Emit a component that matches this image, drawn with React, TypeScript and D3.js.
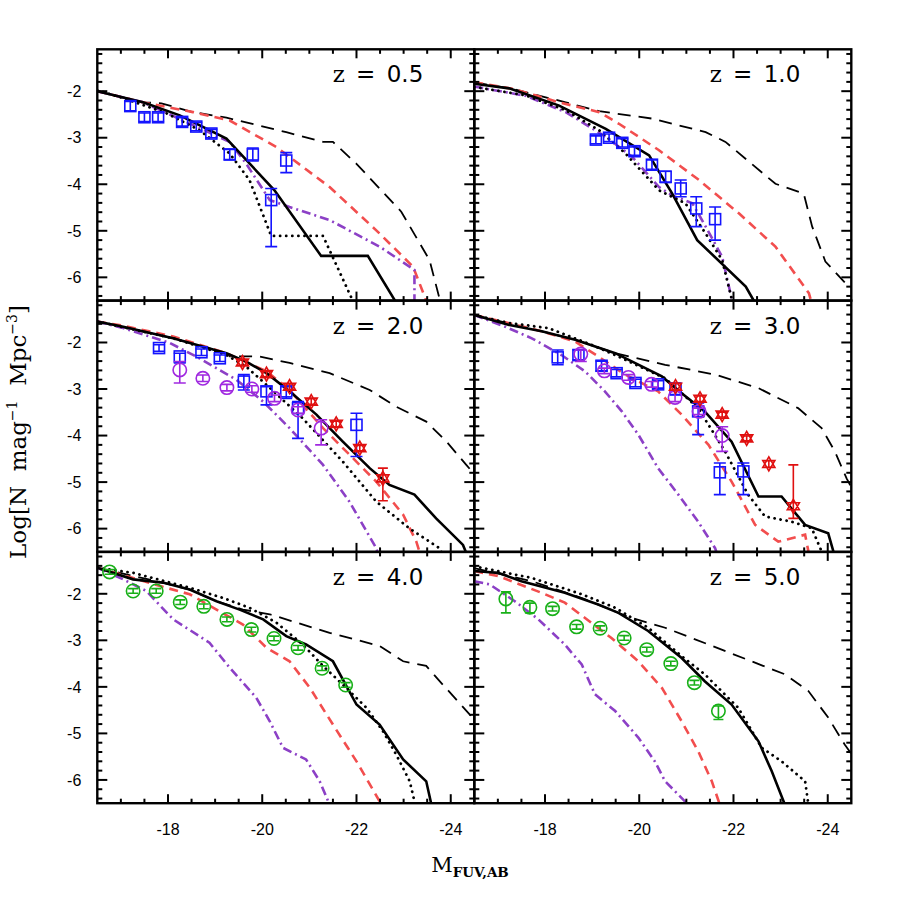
import React from 'react';
import * as d3 from 'd3';

type P = [number, number];
// [M, logN, upper end of bar, lower end of bar]
type E = [number, number, number, number];

const redshifts = ['0.5', '1.0', '2.0', '3.0', '4.0', '5.0'];
const xMajor = [-18, -20, -22, -24];
const yMajor = [-2, -3, -4, -5, -6];

// z = 0.5
const solid05: P[] = [[-16.5, -2.0], [-17.47, -2.24], [-18.25, -2.52], [-19.24, -3.02], [-20.26, -4.13], [-21.25, -5.54], [-22.24, -5.54], [-22.81, -6.49], [-22.9, -6.7]];
const dotted05: P[] = [[-16.5, -1.98], [-17.05, -2.15], [-17.96, -2.47], [-18.67, -2.84], [-19.31, -3.34], [-19.73, -3.91], [-20.19, -5.11], [-21.29, -5.11], [-21.92, -6.5], [-22.0, -6.7]];
const long05: P[] = [[-16.5, -2.0], [-17.47, -2.24], [-17.86, -2.26], [-18.53, -2.45], [-19.24, -2.57], [-20.51, -2.88], [-21.29, -3.09], [-21.5, -3.09], [-22.0, -3.56], [-22.95, -4.59], [-23.55, -5.63], [-23.76, -6.45], [-23.85, -6.7]];
const red05: P[] = [[-16.5, -2.0], [-17.47, -2.24], [-18.53, -2.45], [-19.31, -2.63], [-20.3, -3.2], [-21.43, -4.06], [-22.42, -4.99], [-23.2, -5.77], [-23.48, -6.5], [-23.6, -6.8]];
const purple05: P[] = [[-16.5, -2.0], [-17.47, -2.24], [-18.32, -2.63], [-19.31, -3.09], [-19.66, -3.56], [-20.16, -4.34], [-20.58, -4.49], [-21.43, -4.77], [-22.49, -5.34], [-23.23, -5.84], [-23.23, -6.7]];
const squares05: E[] = [[-17.2, -2.32, -2.22, -2.42], [-17.5, -2.56, -2.47, -2.65], [-17.79, -2.56, -2.47, -2.65], [-18.3, -2.66, -2.57, -2.75], [-18.6, -2.76, -2.67, -2.85], [-18.92, -2.91, -2.82, -3.0], [-19.31, -3.36, -3.25, -3.47], [-19.8, -3.36, -3.22, -3.5], [-20.51, -3.49, -3.32, -3.75], [-20.19, -4.34, -4.09, -5.34]];

// z = 1.0
const solid10: P[] = [[-16.5, -1.84], [-17.24, -1.94], [-18.3, -2.31], [-19.29, -2.81], [-20.21, -3.38], [-20.7, -4.2], [-21.23, -5.2], [-22.26, -6.2], [-22.43, -6.5], [-22.5, -6.7]];
const dotted10: P[] = [[-16.5, -1.91], [-17.59, -2.09], [-18.44, -2.41], [-19.15, -2.84], [-19.71, -3.34], [-20.42, -4.13], [-20.98, -4.41], [-21.41, -5.06], [-21.76, -5.63], [-21.97, -6.5], [-22.0, -6.7]];
const long10: P[] = [[-16.5, -1.81], [-17.31, -1.95], [-18.44, -2.24], [-19.15, -2.43], [-20.28, -2.59], [-21.41, -2.88], [-21.83, -3.09], [-22.89, -3.99], [-23.49, -4.2], [-23.67, -4.91], [-23.95, -5.66], [-24.38, -6.13], [-24.6, -6.3]];
const red10: P[] = [[-16.5, -1.81], [-17.31, -1.95], [-17.8, -2.09], [-18.3, -2.24], [-19.15, -2.45], [-19.57, -2.7], [-20.42, -3.27], [-21.27, -3.91], [-22.12, -4.63], [-22.89, -5.34], [-23.6, -6.34], [-23.7, -6.7]];
const purple10: P[] = [[-16.5, -1.9], [-17.59, -2.1], [-18.44, -2.45], [-19.29, -2.98], [-19.85, -3.41], [-20.42, -4.06], [-20.7, -4.24], [-21.13, -4.41], [-21.41, -4.91], [-21.76, -5.56], [-21.97, -6.5], [-22.0, -6.7]];
const squares10: E[] = [[-19.08, -3.04, -2.96, -3.13], [-19.36, -3.0, -2.92, -3.08], [-19.64, -3.11, -3.02, -3.2], [-19.9, -3.29, -3.2, -3.38], [-20.27, -3.58, -3.48, -3.68], [-20.56, -3.84, -3.72, -3.96], [-20.88, -4.09, -3.91, -4.27], [-21.21, -4.52, -4.27, -4.91], [-21.61, -4.75, -4.49, -5.2]];

// z = 2.0
const solid20: P[] = [[-16.5, -1.55], [-17.05, -1.66], [-18.11, -1.91], [-19.24, -2.23], [-19.66, -2.41], [-20.09, -2.66], [-20.58, -3.05], [-21.15, -3.55], [-21.71, -4.13], [-22.28, -4.7], [-22.7, -5.06], [-23.23, -5.27], [-23.69, -5.78], [-24.26, -6.35], [-24.4, -6.7]];
const dotted20: P[] = [[-16.5, -1.55], [-18.11, -1.91], [-19.24, -2.27], [-19.66, -2.52], [-20.09, -2.91], [-20.86, -3.63], [-21.71, -4.56], [-22.42, -5.42], [-23.13, -6.0], [-23.76, -6.42], [-23.9, -6.7]];
const long20: P[] = [[-16.5, -1.55], [-18.11, -1.91], [-19.24, -2.23], [-19.31, -2.3], [-19.94, -2.3], [-20.58, -2.44], [-21.43, -2.66], [-22.28, -3.02], [-22.84, -3.38], [-23.48, -3.7], [-23.91, -4.13], [-24.33, -4.63], [-24.6, -4.95]];
const red20: P[] = [[-16.5, -1.55], [-17.05, -1.64], [-18.11, -1.87], [-19.24, -2.23], [-20.09, -2.62], [-20.58, -3.02], [-21.29, -3.84], [-21.85, -4.41], [-22.42, -4.99], [-22.99, -5.7], [-23.27, -6.28], [-23.4, -6.7]];
const purple20: P[] = [[-16.5, -1.55], [-17.05, -1.69], [-18.04, -2.01], [-18.67, -2.34], [-19.45, -2.8], [-20.02, -3.27], [-20.58, -3.84], [-21.29, -4.63], [-21.85, -5.42], [-22.42, -6.42], [-22.5, -6.7]];
const squares20: E[] = [[-17.81, -2.12, -2.05, -2.19], [-18.25, -2.3, -2.23, -2.44], [-18.71, -2.21, -2.14, -2.28], [-19.1, -2.34, -2.27, -2.41], [-19.61, -2.84, -2.69, -3.02], [-20.09, -3.05, -2.95, -3.34], [-20.51, -3.05, -2.95, -3.2], [-20.76, -3.41, -3.27, -4.06], [-22.0, -3.77, -3.52, -4.45]];
const circles20: E[] = [[-18.25, -2.59, -2.41, -2.87], [-18.74, -2.77, -2.7, -2.84], [-19.25, -2.97, -2.9, -3.04], [-19.78, -3.0, -2.93, -3.07], [-20.26, -3.2, -3.13, -3.27], [-20.76, -3.45, -3.38, -3.52], [-21.25, -3.84, -3.66, -4.2]];
const stars20: E[] = [[-19.58, -2.43, -2.37, -2.49], [-20.09, -2.68, -2.62, -2.74], [-20.58, -2.95, -2.89, -3.01], [-21.04, -3.27, -3.21, -3.33], [-21.57, -3.75, -3.69, -3.81], [-22.07, -4.27, -4.21, -4.33], [-22.56, -4.92, -4.7, -5.4]];

// z = 3.0
const solid30: P[] = [[-16.5, -1.41], [-17.22, -1.62], [-17.93, -1.76], [-18.64, -1.94], [-19.49, -2.23], [-20.48, -2.73], [-20.9, -3.09], [-21.39, -3.48], [-21.96, -4.13], [-22.53, -5.31], [-23.02, -5.31], [-23.52, -5.92], [-24.01, -6.1], [-24.12, -6.49], [-24.15, -6.7]];
const dotted30: P[] = [[-16.5, -1.41], [-17.22, -1.58], [-18.07, -1.69], [-18.99, -2.05], [-19.49, -2.27], [-20.55, -2.77], [-21.25, -3.41], [-21.82, -4.34], [-22.31, -5.27], [-22.67, -5.74], [-23.23, -5.85], [-23.66, -5.99], [-23.87, -6.49], [-23.9, -6.7]];
const long30: P[] = [[-16.5, -1.41], [-17.93, -1.76], [-18.64, -1.94], [-19.49, -2.23], [-20.55, -2.48], [-21.61, -2.69], [-22.53, -2.98], [-23.37, -3.41], [-23.87, -3.84], [-24.15, -4.34], [-24.4, -4.92], [-24.6, -5.3]];
const red30: P[] = [[-16.5, -1.41], [-17.22, -1.58], [-17.93, -1.76], [-18.64, -1.98], [-19.13, -2.3], [-19.7, -2.69], [-20.4, -3.05], [-20.9, -3.55], [-21.47, -4.2], [-21.96, -4.99], [-22.46, -5.92], [-22.95, -6.28], [-23.52, -6.13], [-23.59, -6.49], [-23.6, -6.7]];
const purple30: P[] = [[-16.5, -1.41], [-17.15, -1.66], [-17.72, -1.91], [-18.35, -2.27], [-18.85, -2.62], [-19.27, -3.05], [-19.63, -3.48], [-19.98, -3.98], [-20.4, -4.7], [-20.83, -5.27], [-21.25, -5.85], [-21.61, -6.42], [-21.7, -6.7]];
const squares30: E[] = [[-18.27, -2.32, -2.16, -2.48], [-18.71, -2.27, -2.16, -2.37], [-19.2, -2.5, -2.4, -2.61], [-19.52, -2.66, -2.58, -2.74], [-19.92, -2.87, -2.79, -2.95], [-20.4, -2.9, -2.82, -2.98], [-20.77, -3.0, -2.87, -3.13], [-21.25, -3.48, -3.3, -3.98], [-21.71, -4.79, -4.59, -5.27], [-22.21, -4.77, -4.59, -5.27]];
const circles30: E[] = [[-18.76, -2.25, -2.16, -2.41], [-19.26, -2.61, -2.55, -2.67], [-19.77, -2.75, -2.69, -2.81], [-20.26, -2.9, -2.84, -2.96], [-20.76, -3.18, -3.05, -3.27], [-21.27, -3.48, -3.41, -3.55], [-21.76, -4.0, -3.81, -4.34]];
const stars30: E[] = [[-20.77, -2.95, -2.88, -3.02], [-21.29, -3.21, -3.15, -3.27], [-21.76, -3.55, -3.5, -3.6], [-22.28, -4.06, -4.01, -4.11], [-22.75, -4.61, -4.54, -4.68], [-23.27, -5.52, -4.63, -5.78]];

// z = 4.0
const solid40: P[] = [[-16.5, -1.44], [-17.26, -1.69], [-17.89, -1.76], [-18.46, -1.91], [-19.03, -2.16], [-19.52, -2.34], [-20.02, -2.55], [-20.51, -2.91], [-20.93, -3.09], [-21.5, -3.45], [-22.0, -4.38], [-22.49, -4.81], [-22.99, -5.56], [-23.48, -6.03], [-23.59, -6.53], [-23.6, -6.7]];
const dotted40: P[] = [[-16.5, -1.44], [-17.26, -1.55], [-18.46, -1.87], [-19.17, -2.09], [-19.73, -2.3], [-20.3, -2.62], [-20.86, -3.09], [-21.29, -3.55], [-21.78, -4.02], [-22.21, -4.45], [-22.56, -4.95], [-22.84, -5.45], [-23.13, -6.03], [-23.23, -6.46], [-23.3, -6.7]];
const long40: P[] = [[-16.5, -1.44], [-17.89, -1.76], [-18.46, -1.91], [-19.03, -2.16], [-19.59, -2.34], [-20.16, -2.44], [-21.43, -2.84], [-22.49, -3.12], [-22.99, -3.45], [-23.48, -3.55], [-23.83, -3.95], [-24.4, -4.59], [-24.6, -4.8]];
const red40: P[] = [[-16.5, -1.44], [-17.26, -1.66], [-17.96, -1.87], [-18.46, -2.01], [-19.03, -2.34], [-19.59, -2.66], [-20.09, -3.16], [-20.58, -3.45], [-21.01, -4.02], [-21.5, -4.81], [-22.0, -5.6], [-22.49, -6.46], [-22.55, -6.7]];
const purple40: P[] = [[-16.5, -1.44], [-17.05, -1.69], [-17.54, -1.94], [-18.11, -2.55], [-18.88, -3.05], [-19.31, -3.59], [-19.87, -4.23], [-20.16, -4.74], [-20.44, -5.31], [-20.93, -5.56], [-21.22, -6.03], [-21.43, -6.53], [-21.45, -6.7]];
const green40: E[] = [[-16.76, -1.53, -1.48, -1.58], [-17.26, -1.94, -1.89, -1.99], [-17.75, -1.94, -1.89, -1.99], [-18.26, -2.18, -2.13, -2.23], [-18.76, -2.27, -2.22, -2.32], [-19.25, -2.55, -2.5, -2.6], [-19.77, -2.77, -2.72, -2.82], [-20.25, -2.96, -2.91, -3.01], [-20.76, -3.16, -3.11, -3.21], [-21.27, -3.6, -3.55, -3.65], [-21.77, -3.96, -3.91, -4.01]];

// z = 5.0
const solid50: P[] = [[-16.5, -1.51], [-17.01, -1.55], [-17.5, -1.73], [-18.42, -1.98], [-19.13, -2.23], [-19.56, -2.41], [-20.19, -2.8], [-20.9, -3.38], [-21.39, -3.88], [-21.96, -4.38], [-22.53, -5.17], [-22.81, -5.81], [-23.09, -6.53], [-23.12, -6.7]];
const dotted50: P[] = [[-16.5, -1.41], [-17.72, -1.66], [-18.78, -2.01], [-19.49, -2.3], [-20.19, -2.73], [-20.9, -3.34], [-21.39, -3.73], [-22.1, -4.45], [-22.6, -5.31], [-23.02, -5.6], [-23.52, -6.03], [-23.59, -6.53], [-23.6, -6.7]];
const long50: P[] = [[-16.5, -1.45], [-17.72, -1.73], [-18.78, -2.09], [-19.56, -2.41], [-19.84, -2.52], [-20.55, -2.73], [-21.47, -3.09], [-22.38, -3.45], [-23.09, -3.73], [-23.59, -4.09], [-24.01, -4.66], [-24.36, -5.24], [-24.51, -5.45], [-24.6, -5.6]];
const red50: P[] = [[-16.5, -1.51], [-17.01, -1.62], [-17.93, -1.98], [-18.42, -2.19], [-18.85, -2.52], [-19.41, -2.95], [-19.98, -3.45], [-20.48, -4.02], [-20.9, -4.74], [-21.25, -5.38], [-21.54, -6.03], [-21.71, -6.53], [-21.73, -6.7]];
const purple50: P[] = [[-16.5, -1.73], [-16.83, -1.8], [-17.36, -2.16], [-17.86, -2.55], [-18.42, -3.09], [-18.78, -3.52], [-19.06, -4.16], [-19.49, -4.52], [-19.98, -5.09], [-20.33, -5.6], [-20.55, -6.03], [-20.97, -6.46], [-21.05, -6.7]];
const green50: E[] = [[-17.17, -2.11, -1.96, -2.41], [-17.68, -2.29, -2.2, -2.41], [-18.16, -2.32, -2.27, -2.37], [-18.67, -2.71, -2.66, -2.76], [-19.17, -2.74, -2.69, -2.79], [-19.68, -2.95, -2.9, -3.0], [-20.16, -3.2, -3.15, -3.25], [-20.67, -3.5, -3.45, -3.55], [-21.17, -3.91, -3.86, -3.96], [-21.68, -4.52, -4.41, -4.7]];

const panels = [
  { solid: solid05, dotted: dotted05, long: long05, red: red05, purple: purple05, squares: squares05, circles: [] as E[], stars: [] as E[], green: [] as E[] },
  { solid: solid10, dotted: dotted10, long: long10, red: red10, purple: purple10, squares: squares10, circles: [] as E[], stars: [] as E[], green: [] as E[] },
  { solid: solid20, dotted: dotted20, long: long20, red: red20, purple: purple20, squares: squares20, circles: circles20, stars: stars20, green: [] as E[] },
  { solid: solid30, dotted: dotted30, long: long30, red: red30, purple: purple30, squares: squares30, circles: circles30, stars: stars30, green: [] as E[] },
  { solid: solid40, dotted: dotted40, long: long40, red: red40, purple: purple40, squares: [] as E[], circles: [] as E[], stars: [] as E[], green: green40 },
  { solid: solid50, dotted: dotted50, long: long50, red: red50, purple: purple50, squares: [] as E[], circles: [] as E[], stars: [] as E[], green: green50 },
];

const left = 97.3;
const colW = 377;
const top = 49.3;
const rowH = 251.3;

const BLUE = '#1414ff';
const VIOLET = '#a028e0';
const STAR = '#e01010';
const GREEN = '#18b018';

const isMajor = (v: number, step: number) => Math.abs(v / step - Math.round(v / step)) < 1e-6;

function hexagram(r: number) {
  const s = r * Math.sin(Math.PI / 3);
  const h = r / 2;
  return `M0,${-r}L${s},${h}L${-s},${h}Z M0,${r}L${s},${-h}L${-s},${-h}Z`;
}

function ErrBars({ pts, x, y, color, cap }: { pts: E[]; x: any; y: any; color: string; cap: number }) {
  return (
    <g stroke={color} strokeWidth={1.6} fill="none">
      {pts.map((d, i) => (
        <g key={i}>
          <line x1={x(d[0])} x2={x(d[0])} y1={y(d[2])} y2={y(d[3])} />
          <line x1={x(d[0]) - cap / 2} x2={x(d[0]) + cap / 2} y1={y(d[2])} y2={y(d[2])} />
          <line x1={x(d[0]) - cap / 2} x2={x(d[0]) + cap / 2} y1={y(d[3])} y2={y(d[3])} />
        </g>
      ))}
    </g>
  );
}

function Panel({ i }: { i: number }) {
  const p = panels[i];
  const col = i % 2;
  const row = Math.floor(i / 2);
  const x0 = left + col * colW;
  const y0 = top + row * rowH;
  const x = d3.scaleLinear().domain([-16.5, -24.5]).range([x0, x0 + colW]);
  const y = d3.scaleLinear().domain([-6.5, -1.1]).range([y0 + rowH, y0]);
  const line = d3.line<P>().x(d => x(d[0])).y(d => y(d[1]));
  const xTicks = d3.range(-17, -24.3, -0.5);
  const yTicks = d3.range(-1.2, -6.45, -0.2);
  const clipId = `clip${i}`;

  return (
    <g>
      <defs>
        <clipPath id={clipId}>
          <rect x={x0} y={y0} width={colW} height={rowH} />
        </clipPath>
      </defs>
      <g clipPath={`url(#${clipId})`} fill="none">
        <path d={line(p.long) || ''} stroke="#000" strokeWidth={1.8} strokeDasharray="13 8" />
        <path d={line(p.red) || ''} stroke="#f24e4e" strokeWidth={2.6} strokeDasharray="9 6" />
        <path d={line(p.purple) || ''} stroke="#8c40c6" strokeWidth={2.6} strokeDasharray="9 4 2 4" />
        <path d={line(p.dotted) || ''} stroke="#000" strokeWidth={2.8} strokeDasharray="0.1 6" strokeLinecap="round" />
        <path d={line(p.solid) || ''} stroke="#000" strokeWidth={2.6} />

        <ErrBars pts={p.squares} x={x} y={y} color={BLUE} cap={12} />
        <g stroke={BLUE} strokeWidth={1.6}>
          {p.squares.map((d, k) => (
            <rect key={k} x={x(d[0]) - 5.5} y={y(d[1]) - 5.5} width={11} height={11} />
          ))}
        </g>
        <ErrBars pts={p.circles} x={x} y={y} color={VIOLET} cap={12} />
        <g stroke={VIOLET} strokeWidth={1.6}>
          {p.circles.map((d, k) => (
            <circle key={k} cx={x(d[0])} cy={y(d[1])} r={6.7} />
          ))}
        </g>
        <ErrBars pts={p.stars} x={x} y={y} color={STAR} cap={10} />
        <g stroke={STAR} strokeWidth={1.6}>
          {p.stars.map((d, k) => (
            <path key={k} d={hexagram(7)} transform={`translate(${x(d[0])},${y(d[1])})`} />
          ))}
        </g>
        <ErrBars pts={p.green} x={x} y={y} color={GREEN} cap={10} />
        <g stroke={GREEN} strokeWidth={1.6}>
          {p.green.map((d, k) => (
            <circle key={k} cx={x(d[0])} cy={y(d[1])} r={6.7} />
          ))}
        </g>
      </g>

      <g stroke="#000" strokeWidth={2}>
        {xTicks.map((v, k) => {
          const len = isMajor(v, 2) ? 9 : 4.5;
          return (
            <g key={k}>
              <line x1={x(v)} x2={x(v)} y1={y0 + rowH} y2={y0 + rowH - len} />
              <line x1={x(v)} x2={x(v)} y1={y0} y2={y0 + len} />
            </g>
          );
        })}
        {yTicks.map((v, k) => {
          const len = isMajor(v, 1) ? 10 : 5;
          return (
            <g key={k}>
              <line x1={x0} x2={x0 + len} y1={y(v)} y2={y(v)} />
              <line x1={x0 + colW} x2={x0 + colW - len} y1={y(v)} y2={y(v)} />
            </g>
          );
        })}
      </g>
      <rect x={x0} y={y0} width={colW} height={rowH} fill="none" stroke="#000" strokeWidth={2.4} />

      <text x={x0 + colW - 51} y={y0 + 33} textAnchor="end" fontSize={23} fontFamily="DejaVu Sans" wordSpacing={4}>
        <tspan fontFamily="DejaVu Serif">z</tspan> = {redshifts[i]}
      </text>

      {col === 0 &&
        yMajor.map(v => (
          <text key={v} x={x0 - 16} y={y(v)} dy="0.36em" textAnchor="end" fontSize={16} fontFamily="Liberation Sans">
            {v}
          </text>
        ))}
      {row === 2 &&
        xMajor.map(v => (
          <text key={v} x={x(v)} y={y0 + rowH + 32} textAnchor="middle" fontSize={16} fontFamily="Liberation Sans">
            {v}
          </text>
        ))}
    </g>
  );
}

export default function App() {
  return (
    <svg width={900} height={900} style={{ position: 'absolute', left: 0, top: 0, background: '#fff' }}>
      <rect width={900} height={900} fill="#fff" />
      {panels.map((_, i) => (
        <Panel key={i} i={i} />
      ))}
      <text
        transform="translate(26,432) rotate(-90)"
        textAnchor="middle"
        fontSize={23}
        fontFamily="DejaVu Serif"
        style={{ whiteSpace: 'pre' }}
      >
        {'Log[N  mag'}
        <tspan fontSize={14} dy={-9}>−1</tspan>
        <tspan dy={9}>{'  Mpc'}</tspan>
        <tspan fontSize={14} dy={-9}>−3</tspan>
        <tspan dy={9}>]</tspan>
      </text>
      <text x={470} y={872} textAnchor="middle" fontSize={21} fontFamily="DejaVu Serif">
        M
        <tspan fontSize={13.5} fontWeight="bold" dy={5}>FUV,AB</tspan>
      </text>
    </svg>
  );
}
